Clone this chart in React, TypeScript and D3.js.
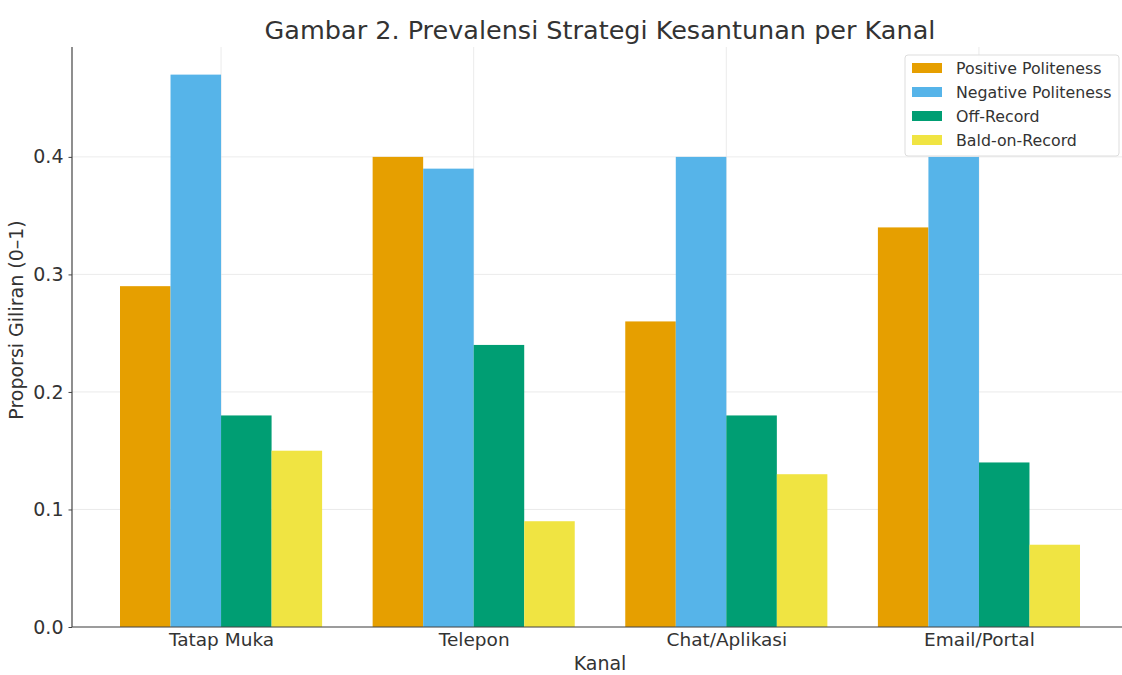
import { useEffect, useRef } from "react";
import * as d3 from "d3";

const categories = ["Tatap Muka", "Telepon", "Chat/Aplikasi", "Email/Portal"];
const seriesNames = ["Positive Politeness", "Negative Politeness", "Off-Record", "Bald-on-Record"];
const seriesColors = ["#E69F00", "#56B4E9", "#009E73", "#F0E442"];
const positive = [0.29, 0.4, 0.26, 0.34];
const negative = [0.47, 0.39, 0.4, 0.4];
const offRecord = [0.18, 0.24, 0.18, 0.14];
const bald = [0.15, 0.09, 0.13, 0.07];
const yTicks = [0, 0.1, 0.2, 0.3, 0.4];

const W = 1122;
const H = 675;

export default function App() {
  const ref = useRef<SVGSVGElement | null>(null);

  useEffect(() => {
    const node = ref.current;
    if (!node) return;
    const svg = d3.select(node);
    svg.selectAll("*").remove();

    const left = 72;
    const right = 1128;
    const top = 47;
    const bottom = 627;
    const font = "DejaVu Sans, sans-serif";
    const values = [positive, negative, offRecord, bald];

    // matplotlib-like linear x: bars at i + (k-1.5)*0.2, width 0.2
    const x = d3.scaleLinear().domain([-0.59, 3.59]).range([left, right]);
    const yMax = d3.max(values.flat())! * 1.05;
    const y = d3.scaleLinear().domain([0, yMax]).range([bottom, top]);
    const barW = 0.2;

    // grid
    const grid = svg.append("g").attr("stroke", "#e6e6e6").attr("stroke-width", 0.8);
    yTicks.forEach((t) => {
      grid.append("line").attr("x1", left).attr("x2", right).attr("y1", y(t)).attr("y2", y(t));
    });
    categories.forEach((_, i) => {
      grid.append("line").attr("x1", x(i)).attr("x2", x(i)).attr("y1", top).attr("y2", bottom);
    });

    // bars
    values.forEach((vals, k) => {
      svg
        .append("g")
        .selectAll("rect")
        .data(vals)
        .enter()
        .append("rect")
        .attr("x", (_, i) => x(i + (k - 1.5) * barW - barW / 2))
        .attr("width", x(barW) - x(0))
        .attr("y", (d) => y(d))
        .attr("height", (d) => bottom - y(d))
        .attr("fill", seriesColors[k]);
    });

    // axes
    const yAxis = svg
      .append("g")
      .attr("transform", `translate(${left},0)`)
      .call(d3.axisLeft(y).tickValues(yTicks).tickFormat(d3.format(".1f")).tickSize(3.5));
    yAxis.select(".domain").attr("stroke", "#444").attr("stroke-width", 1.2).attr("d", `M0,${top}V${bottom}`);
    yAxis.selectAll(".tick line").attr("stroke", "#444");
    yAxis.selectAll("text").attr("font-family", font).attr("font-size", 19).attr("fill", "#333").attr("dx", -2);

    const xAxis = svg
      .append("g")
      .attr("transform", `translate(0,${bottom})`)
      .call(
        d3
          .axisBottom(x)
          .tickValues(d3.range(categories.length))
          .tickFormat((d) => categories[d as number])
          .tickSize(0)
      );
    xAxis.select(".domain").attr("stroke", "#444").attr("stroke-width", 1.2).attr("d", `M${left},0H${right}`);
    xAxis.selectAll("text").attr("font-family", font).attr("font-size", 18.5).attr("fill", "#333").attr("dy", "0.85em");

    // labels
    svg
      .append("text")
      .attr("x", 600)
      .attr("y", 39)
      .attr("text-anchor", "middle")
      .attr("font-family", font)
      .attr("font-size", 25.5)
      .attr("fill", "#333")
      .text("Gambar 2. Prevalensi Strategi Kesantunan per Kanal");
    svg
      .append("text")
      .attr("x", 600)
      .attr("y", 670)
      .attr("text-anchor", "middle")
      .attr("font-family", font)
      .attr("font-size", 19)
      .attr("fill", "#333")
      .text("Kanal");
    svg
      .append("text")
      .attr("transform", `translate(23,${(top + bottom) / 2 - 17}) rotate(-90)`)
      .attr("text-anchor", "middle")
      .attr("font-family", font)
      .attr("font-size", 19)
      .attr("fill", "#333")
      .text("Proporsi Giliran (0–1)");

    // legend
    const lg = svg.append("g").attr("transform", "translate(905,55)");
    lg.append("rect")
      .attr("width", 214)
      .attr("height", 101)
      .attr("rx", 3)
      .attr("fill", "white")
      .attr("fill-opacity", 0.85)
      .attr("stroke", "#ddd");
    seriesNames.forEach((name, k) => {
      const row = lg.append("g").attr("transform", `translate(0,${13 + k * 24})`);
      row.append("rect").attr("x", 7).attr("y", -5).attr("width", 30).attr("height", 10).attr("fill", seriesColors[k]);
      row
        .append("text")
        .attr("x", 51)
        .attr("y", 5.5)
        .attr("font-family", font)
        .attr("font-size", 15.8)
        .attr("fill", "#333")
        .text(name);
    });
  }, []);

  return (
    <div style={{ position: "fixed", left: 0, top: 0, width: W, height: H, background: "white" }}>
      <svg ref={ref} width={W} height={H} style={{ display: "block", overflow: "hidden" }} />
    </div>
  );
}
